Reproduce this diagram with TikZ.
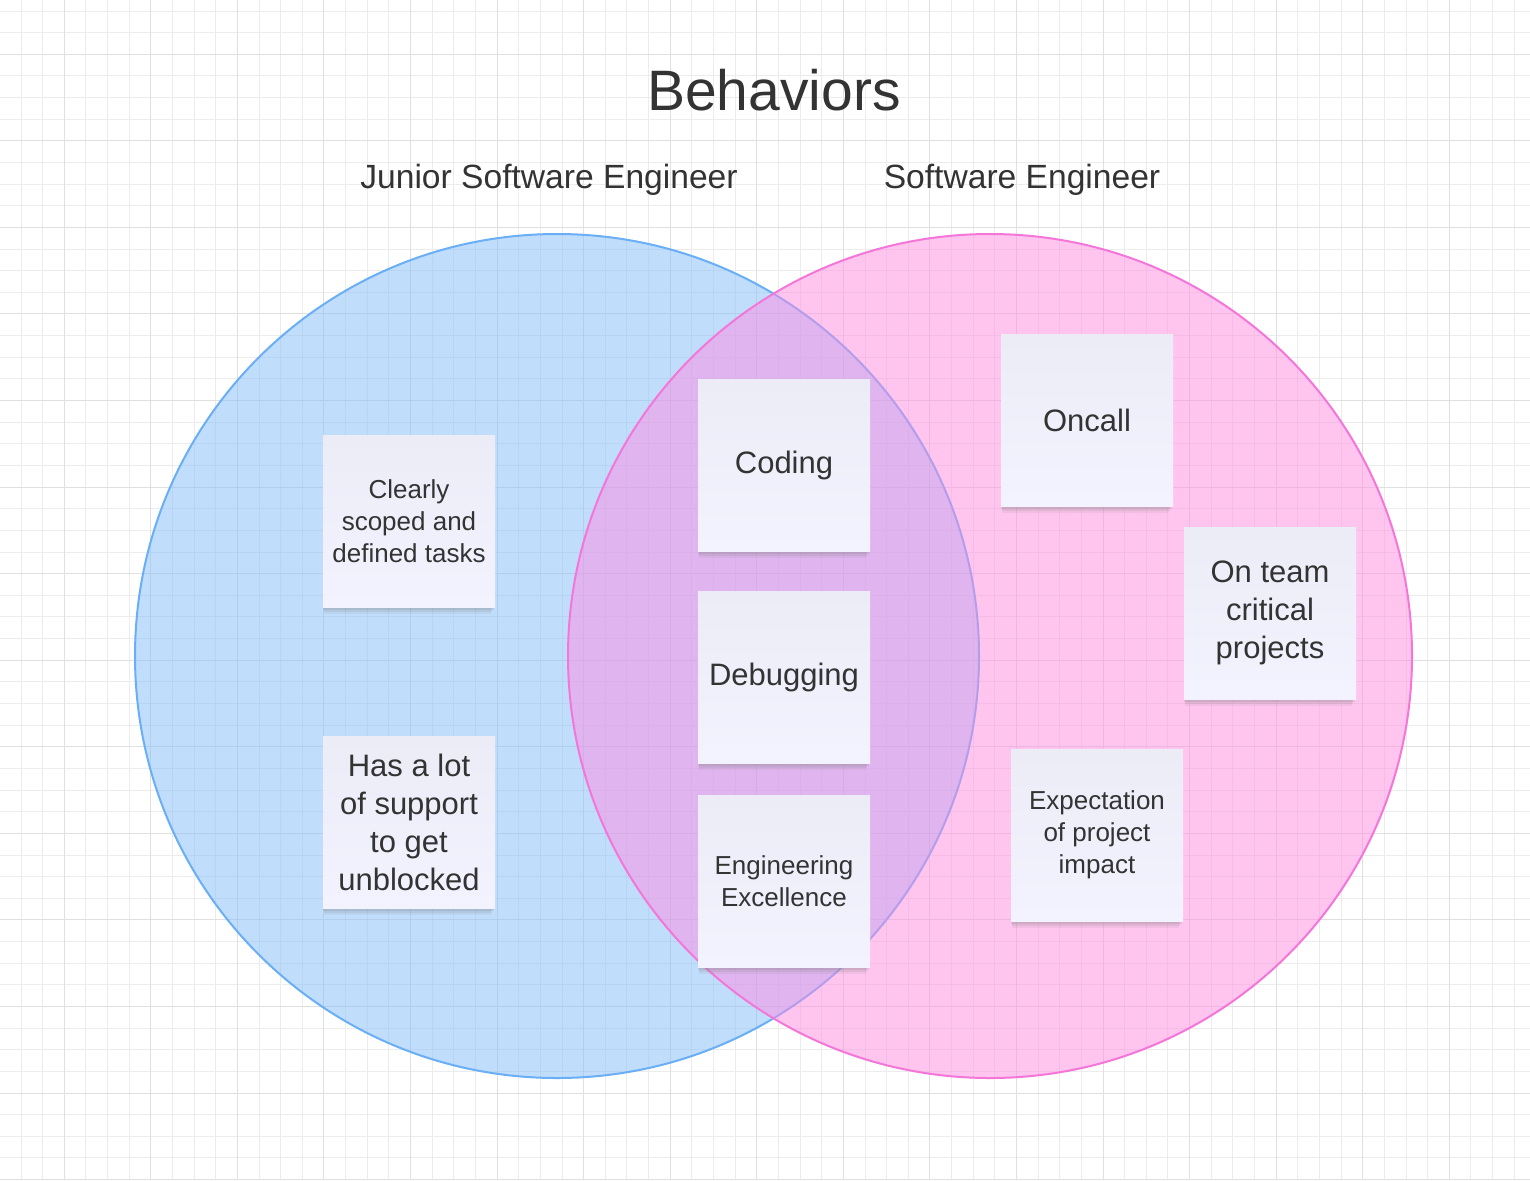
\documentclass[tikz,border=0pt]{standalone}
\usepackage{fontspec}
\setmainfont{Liberation Sans}
\usepackage{xcolor}
\usetikzlibrary{shadows}
\definecolor{gridmin}{RGB}{236,236,236}
\definecolor{gridmaj}{RGB}{224,224,224}
\definecolor{jblue}{RGB}{133,189,251}
\definecolor{jblueline}{RGB}{106,174,245}
\definecolor{spink}{RGB}{255,141,225}
\definecolor{spinkline}{RGB}{243,118,216}
\definecolor{notetop}{RGB}{236,236,247}
\definecolor{notebot}{RGB}{243,243,255}
\definecolor{inkgray}{RGB}{51,51,51}

\begin{document}
\begin{tikzpicture}[x=0.5pt, y=-0.5pt, text=inkgray,
  note/.style={minimum width=86pt, minimum height=86pt, inner sep=0pt, align=center,
    top color=notetop, bottom color=notebot,
    drop shadow={shadow xshift=-0.8pt, shadow yshift=-5pt, shadow scale=0.97, opacity=0.10},
    drop shadow={shadow xshift=-0.5pt, shadow yshift=-3.5pt, shadow scale=0.98, opacity=0.14},
    drop shadow={shadow xshift=-0.3pt, shadow yshift=-2pt, shadow scale=0.99, opacity=0.18}},
  bignote/.style={note, font=\fontsize{15.5}{19}\selectfont},
  smallnote/.style={note, font=\fontsize{13}{16}\selectfont},
  heading/.style={anchor=base, font=\fontsize{16.8}{20}\selectfont}]

%% page and background grid
\fill[white] (0,0) rectangle (1530,1180);
\useasboundingbox (0,0) rectangle (1530,1180);
\foreach \i in {0,...,71} {
  \pgfmathtruncatemacro{\r}{mod(\i,4)}
  \ifnum\r=3\else
    \draw[gridmin, line width=0.5pt] ({-0.6+21.64*\i},0) -- ++(0,1180);
  \fi}
\foreach \j in {0,...,57} {
  \pgfmathtruncatemacro{\r}{mod(\j,4)}
  \ifnum\r=0\else
    \draw[gridmin, line width=0.5pt] (0,{-32.26+21.64*\j}) -- ++(1530,0);
  \fi}
\foreach \k in {0,...,17} \draw[gridmaj, line width=0.5pt] ({64.3+86.56*\k},0) -- ++(0,1180);
\foreach \k in {0,...,13} \draw[gridmaj, line width=0.5pt] (0,{54.3+86.56*\k}) -- ++(1530,0);

%% the two circles
\draw[jblueline, line width=1pt, fill=jblue, fill opacity=0.5] (557,656) circle[radius=422];
\draw[spinkline, line width=1pt, fill=spink, fill opacity=0.5] (990,656) circle[radius=422];

%% titles
\node[anchor=base, font=\fontsize{28.5}{34}\selectfont] (title) at (774,110) {Behaviors};
\node[heading] (junior) at (549,188) {Junior Software Engineer};
\node[heading] (senior) at (1022,188) {Software Engineer};

%% sticky notes -- left circle
\node[smallnote] (clearly) at (409,521) {Clearly\\scoped and\\defined tasks};
\node[bignote] (support) at (409,822) {Has a lot\\of support\\to get\\unblocked};

%% sticky notes -- overlap
\node[bignote] (coding) at (784,465) {Coding};
\node[bignote] (debugging) at (784,677) {Debugging};
\node[smallnote] (excellence) at (784,881) {Engineering\\Excellence};

%% sticky notes -- right circle
\node[bignote] (oncall) at (1087,420) {Oncall};
\node[bignote] (critical) at (1270,613) {On team\\critical\\projects};
\node[smallnote] (impact) at (1097,835) {Expectation\\of project\\impact};

\end{tikzpicture}
\end{document}
